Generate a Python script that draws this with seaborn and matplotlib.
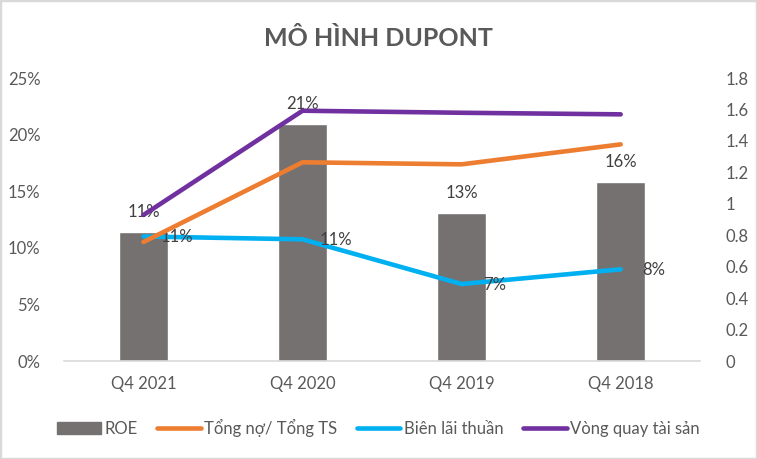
import numpy as np
import pandas as pd
import matplotlib
matplotlib.use('Agg')
import matplotlib.pyplot as plt
import seaborn as sns
from matplotlib.patches import Patch, Rectangle
from matplotlib.lines import Line2D
from matplotlib.ticker import FuncFormatter

# ==============================================================================
# Datos
# ==============================================================================
quy = ['Q4 2021', 'Q4 2020', 'Q4 2019', 'Q4 2018']
roe = [0.114, 0.209, 0.131, 0.158]
tong_no_tong_ts = [0.757, 1.264, 1.251, 1.378]
bien_lai_thuan = [0.110, 0.1075, 0.068, 0.081]
vong_quay_ts = [0.929, 1.592, 1.579, 1.569]

COLOR_ROE = '#767171'
COLOR_NO = '#ED7D31'
COLOR_BIEN = '#00B0F0'
COLOR_VONG = '#7030A0'
GRIS_TXT = '#595959'

sns.set_theme(style='white')
plt.rcParams['font.family'] = ['Lato', 'DejaVu Sans']

df = pd.DataFrame({'quy': quy, 'roe': roe, 'no': tong_no_tong_ts,
                   'bien': bien_lai_thuan, 'vong': vong_quay_ts})
df['pos'] = np.arange(len(df))

fig = plt.figure(figsize=(7.57, 4.59), dpi=100)
ax = fig.add_axes([0.0845, 0.2135, 0.8405, 0.6165])

sns.barplot(data=df, x='quy', y='roe', color=COLOR_ROE, width=0.31,
            saturation=1, ax=ax, zorder=2)
sns.lineplot(data=df, x='pos', y='bien', color=COLOR_BIEN, linewidth=3.3,
             ax=ax, zorder=3, legend=False)
ax.set_xlim(-0.5, len(df) - 0.5)
ax.set_ylim(0, 0.25)
ax.set_yticks(np.arange(0, 0.26, 0.05))
ax.yaxis.set_major_formatter(FuncFormatter(lambda v, p: f'{v*100:.0f}%'))

ax2 = ax.twinx()
sns.lineplot(data=df, x='pos', y='no', color=COLOR_NO, linewidth=3.3,
             ax=ax2, zorder=3, legend=False)
sns.lineplot(data=df, x='pos', y='vong', color=COLOR_VONG, linewidth=3.3,
             ax=ax2, zorder=3, legend=False)
ax2.set_ylim(0, 1.8)
ax2.set_yticks(np.arange(0, 1.81, 0.2))
ax2.yaxis.set_major_formatter(FuncFormatter(lambda v, p: f'{v:.1f}'.rstrip('0').rstrip('.')))
ax2.set_xlim(-0.5, len(df) - 0.5)

for a in (ax, ax2):
    a.set_xlabel('')
    a.set_ylabel('')
    for s in a.spines.values():
        s.set_visible(False)
    a.tick_params(length=0, labelsize=12, labelcolor=GRIS_TXT)
ax.spines['bottom'].set_visible(True)
ax.spines['bottom'].set_color('#D9D9D9')
ax.spines['bottom'].set_linewidth(1.2)
ax.tick_params(axis='y', pad=17)
ax2.tick_params(axis='y', pad=18)
ax.tick_params(axis='x', pad=11)
ax.set_xticks(df['pos'])
ax.set_xticklabels(quy)

# Etiquetas de datos
for i, v in enumerate(roe):
    ax.annotate(f'{v*100:.0f}%', (i, v), xytext=(0, 20), textcoords='offset pixels',
                ha='center', va='center', fontsize=12, color='#404040', zorder=5)
for i, v in enumerate(bien_lai_thuan):
    ax.annotate(f'{v*100:.0f}%', (i, v), xytext=(33, -1), textcoords='offset pixels',
                ha='center', va='center', fontsize=12, color='#404040', zorder=5)

fig.text(0.5, 1 - 38 / 459, 'MÔ HÌNH DUPONT', fontsize=18, weight='bold',
         color=GRIS_TXT, ha='center', va='center')

handles = [Patch(color=COLOR_ROE),
           Line2D([0], [0], color=COLOR_NO, lw=3.3, solid_capstyle='round'),
           Line2D([0], [0], color=COLOR_BIEN, lw=3.3, solid_capstyle='round'),
           Line2D([0], [0], color=COLOR_VONG, lw=3.3, solid_capstyle='round')]
labels = ['ROE', 'Tổng nợ/ Tổng TS', 'Biên lãi thuần', 'Vòng quay tài sản']
fig.legend(handles, labels, loc='center', bbox_to_anchor=(0.5, 1 - 428 / 459),
           ncol=4, frameon=False, fontsize=12, handlelength=2.6,
           handletextpad=0.2, columnspacing=1.2, labelcolor=GRIS_TXT)

fig.patches.append(Rectangle((0, 0), 1, 1, transform=fig.transFigure,
                             fill=False, edgecolor='#D9D9D9', linewidth=2.5))

plt.savefig('out.png', dpi=100)
